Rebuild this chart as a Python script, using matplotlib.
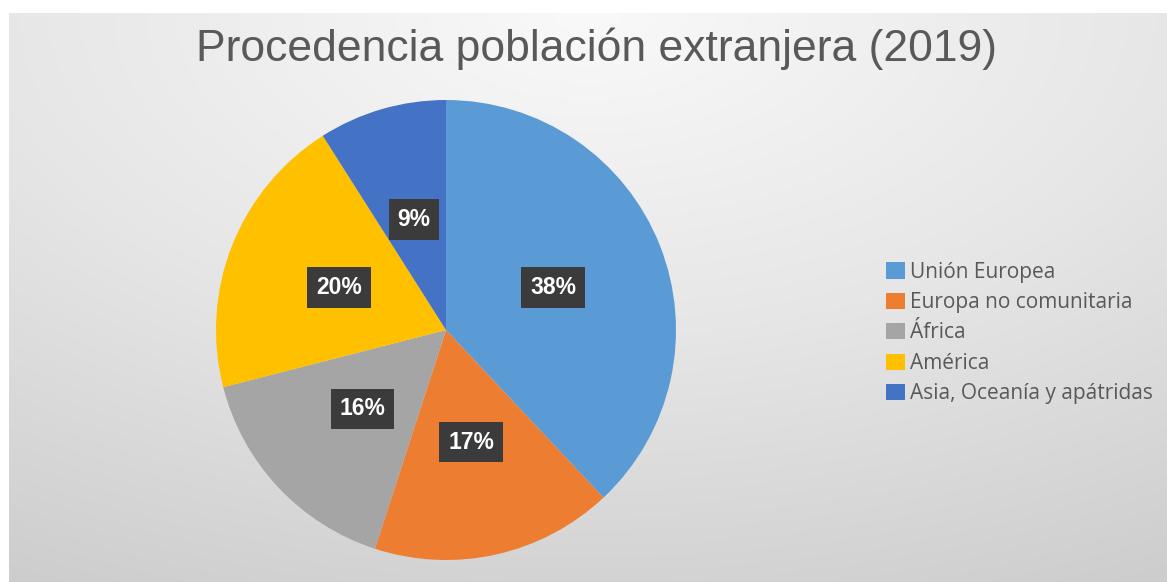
import matplotlib.pyplot as plt
import numpy as np
from matplotlib.colors import LinearSegmentedColormap

# Data
categories = ['Unión Europea', 'Europa no comunitaria', 'África', 'América',
              'Asia, Oceanía y apátridas']
shares = [38, 17, 16, 20, 9]
colors = ['#5B9BD5', '#ED7D31', '#A5A5A5', '#FFC000', '#4472C4']
title = 'Procedencia población extranjera (2019)'

W, H = 1167, 582
fig = plt.figure(figsize=(W / 100, H / 100), dpi=100)
fig.patch.set_facecolor('white')

# Background: soft radial gradient, light at the top centre
bg = fig.add_axes([9 / W, 0, 1 - 9 / W, (H - 13) / H])
yy, xx = np.mgrid[0:1:300j, 0:1:600j]
dist = np.sqrt(((xx - 0.5) * 1.1) ** 2 + (yy * 1.0) ** 2)
bg_cmap = LinearSegmentedColormap.from_list('bg', ['#f9f9f9', '#e6e6e6', '#cdcdcd'])
bg.imshow(dist, cmap=bg_cmap, aspect='auto', extent=(0, 1, 0, 1), origin='upper')
bg.axis('off')

# Pie
ax = fig.add_axes([216 / W, 22 / H, 460 / W, 460 / H])
wedges, texts, autotexts = ax.pie(
    shares, colors=colors, startangle=90, counterclock=False,
    autopct='%1.0f%%', pctdistance=0.5,
    wedgeprops={'linewidth': 0},
    textprops={'color': 'white', 'fontsize': 16.5, 'fontweight': 'bold',
               'family': 'Liberation Sans'})
for t in autotexts:
    t.set_bbox(dict(facecolor='#3b3b3b', edgecolor='none', boxstyle='square,pad=0.38'))
ax.set_xlim(-1, 1)
ax.set_ylim(-1, 1)
ax.set_aspect('equal')

# Title
fig.text(596 / W, 1 - 49 / H, title, ha='center', va='center',
         fontsize=32, color='#595959', family='Liberation Sans')

# Legend
leg = fig.legend(wedges, categories, loc='center left',
                 bbox_to_anchor=(886 / W, 1 - 333 / H),
                 frameon=False, borderpad=0, borderaxespad=0,
                 handlelength=0.92, handleheight=0.82, handletextpad=0.25,
                 labelspacing=0.45,
                 prop={'family': 'Open Sans', 'size': 15})
for t in leg.get_texts():
    t.set_color('#595959')

fig.savefig('out.png', dpi=100, facecolor=fig.get_facecolor())
